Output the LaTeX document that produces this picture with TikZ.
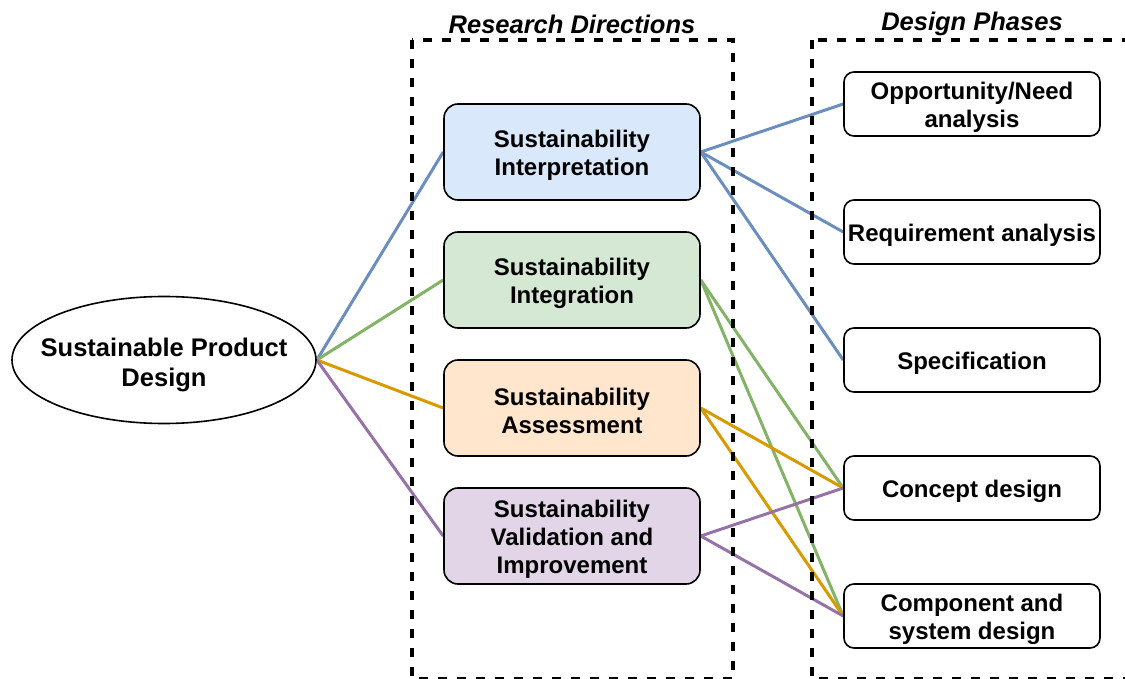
\documentclass[tikz,border=0pt]{standalone}
\usepackage{fontspec}
\setmainfont{Liberation Sans}
\usetikzlibrary{shapes.geometric,backgrounds}
% draw.io palette
\definecolor{blueF}{HTML}{DAE8FC}\definecolor{blueS}{HTML}{6C8EBF}
\definecolor{greenF}{HTML}{D5E8D4}\definecolor{greenS}{HTML}{82B366}
\definecolor{orangeF}{HTML}{FFE6CC}\definecolor{orangeS}{HTML}{D79B00}
\definecolor{purpleF}{HTML}{E1D5E7}\definecolor{purpleS}{HTML}{9673A6}
\begin{document}
\begin{tikzpicture}[x=1pt,y=-1pt,
    txt/.style={font=\bfseries\fontsize{24}{28}\selectfont,align=center,yshift=-3pt},
    dirbox/.style={draw=black,line width=1.6pt,rounded corners=14pt,
      minimum width=256pt,minimum height=96pt,inner sep=0pt},
    phasebox/.style={draw=black,line width=1.6pt,rounded corners=10pt,fill=white,
      minimum width=256pt,minimum height=64pt,inner sep=0pt},
    link/.style={line width=3pt},
    frame/.style={line width=3.2pt,dash pattern=on 9pt off 10pt},
    heading/.style={font=\bfseries\itshape\fontsize{25.5}{30}\selectfont}]
    \useasboundingbox (0,0) rectangle (1125,679);
    \clip (0,0) rectangle (1125,679);
    % root
    \node[draw=black,line width=1.6pt,ellipse,minimum width=304pt,minimum height=127pt,inner sep=0pt,
      label={[txt,font=\bfseries\fontsize{25.5}{30}\selectfont,yshift=-2pt]center:Sustainable Product\\Design}]
      (spd) at (164,360) {};
    % research directions
    \node[dirbox,fill=blueF,label={[txt]center:Sustainability\\Interpretation}]   (interp) at (572,152) {};
    \node[dirbox,fill=greenF,label={[txt]center:Sustainability\\Integration}]     (integ)  at (572,280) {};
    \node[dirbox,fill=orangeF,label={[txt]center:Sustainability\\Assessment}]     (assess) at (572,408) {};
    \node[dirbox,fill=purpleF,label={[txt]center:Sustainability\\Validation and\\Improvement}] (valid) at (572,536) {};
    % design phases
    \node[phasebox,label={[txt]center:Opportunity/Need\\analysis}] (opp)  at (972,104) {};
    \node[phasebox,label={[txt]center:Requirement analysis}]       (req)  at (972,232) {};
    \node[phasebox,label={[txt]center:Specification}]              (spec) at (972,360) {};
    \node[phasebox,label={[txt]center:Concept design}]             (conc) at (972,488) {};
    \node[phasebox,label={[txt]center:Component and\\system design}] (comp) at (972,616) {};
    % connectors behind the boxes
    \begin{pgfonlayer}{background}
      \draw[link,blueS]   (spd.east) -- (interp.west);
      \draw[link,greenS]  (spd.east) -- (integ.west);
      \draw[link,orangeS] (spd.east) -- (assess.west);
      \draw[link,purpleS] (spd.east) -- (valid.west);
      \foreach \p in {opp,req,spec}{\draw[link,blueS] (interp.east) -- (\p.west);}
      \foreach \p in {conc,comp}{\draw[link,greenS] (integ.east) -- (\p.west);}
      \foreach \p in {conc,comp}{\draw[link,orangeS] (assess.east) -- (\p.west);}
      \foreach \p in {conc,comp}{\draw[link,purpleS] (valid.east) -- (\p.west);}
    \end{pgfonlayer}
    % dashed groups
    \draw[frame] (412,40) rectangle (733,679);
    \draw[frame] (812,40) rectangle (1140,679);
    \node[heading] (rdtitle) at (572,24) {Research Directions};
    \node[heading] (dptitle) at (972,24) {Design Phases};
  \end{tikzpicture}
\end{document}
